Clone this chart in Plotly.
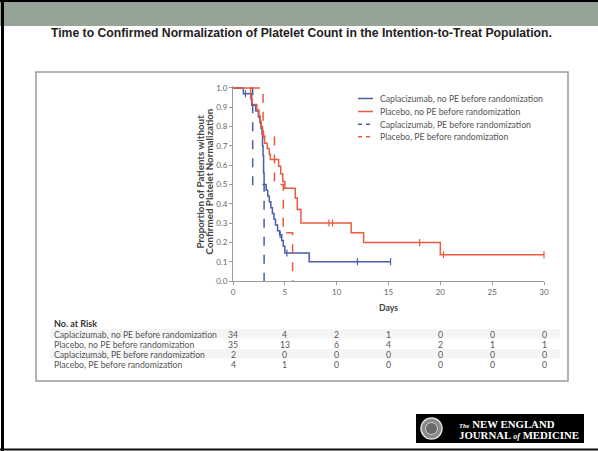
import plotly.graph_objects as go

# ---------------- data ----------------
title_text = "Time to Confirmed Normalization of Platelet Count in the Intention-to-Treat Population."
series_names = [
    "Caplacizumab, no PE before randomization",
    "Placebo, no PE before randomization",
    "Caplacizumab, PE before randomization",
    "Placebo, PE before randomization",
]
y_title_lines = ["Proportion of Patients without", "Confirmed Platelet Normalization"]

# Caplacizumab, no PE (solid blue)
cap_nope_t = [0, 1.0, 1.8, 2.2, 2.45, 2.6, 2.7, 2.8, 2.85, 2.9, 2.95, 3.0, 3.2, 3.35, 3.5, 3.65,
              3.8, 3.95, 4.1, 4.3, 4.5, 4.7, 4.85, 5.0, 7.35, 15.2]
cap_nope_s = [1.0, 0.97, 0.91, 0.88, 0.85, 0.82, 0.79, 0.76, 0.70, 0.65, 0.56, 0.50, 0.47, 0.44, 0.41, 0.38,
              0.35, 0.32, 0.29, 0.26, 0.24, 0.21, 0.18, 0.145, 0.10, 0.10]
cap_nope_cens_t = [1.2, 4.55, 5.2, 12.0, 15.2]
cap_nope_cens_s = [0.97, 0.24, 0.145, 0.10, 0.10]

# Placebo, no PE (solid red)
pla_nope_t = [0, 1.7, 1.85, 2.3, 2.5, 2.6, 2.7, 2.85, 2.95, 3.05, 3.3, 3.5, 3.6, 4.4, 4.6, 4.8, 5.0,
              6.0, 6.2, 6.55, 11.4, 12.6, 20.0, 30.0]
pla_nope_s = [1.0, 0.943, 0.914, 0.886, 0.857, 0.829, 0.80, 0.771, 0.743, 0.714, 0.686, 0.657, 0.629,
              0.594, 0.555, 0.516, 0.48, 0.43, 0.37, 0.30, 0.25, 0.20, 0.136, 0.136]
pla_nope_cens_t = [9.25, 9.6, 18.0, 20.3, 30.0]
pla_nope_cens_s = [0.30, 0.30, 0.20, 0.136, 0.136]

# Caplacizumab, PE (dashed blue)
cap_pe_t = [0, 1.9, 3.0]
cap_pe_s = [1.0, 0.5, 0.0]

# Placebo, PE (dashed red)
pla_pe_t = [0, 2.9, 4.0, 4.85, 5.75]
pla_pe_s = [1.0, 0.75, 0.5, 0.25, 0.0]

x_ticks = [0, 5, 10, 15, 20, 25, 30]
y_ticks = [0.0, 0.1, 0.2, 0.3, 0.4, 0.5, 0.6, 0.7, 0.8, 0.9, 1.0]

risk_days = [0, 5, 10, 15, 20, 25, 30]
risk_cap_nope = [34, 4, 2, 1, 0, 0, 0]
risk_pla_nope = [35, 13, 6, 4, 2, 1, 1]
risk_cap_pe = [2, 0, 0, 0, 0, 0, 0]
risk_pla_pe = [4, 1, 0, 0, 0, 0, 0]
risk_rows = [risk_cap_nope, risk_pla_nope, risk_cap_pe, risk_pla_pe]

# ---------------- styling ----------------
BLUE = "#4a5cab"
RED = "#ea5a3f"
TXT = "#555555"
FONT = "Lato"

W, H = 598, 451
L, R, T, B = 233, 54, 86, 170
PW = W - L - R
PH = H - T - B


def xp(px):
    return (px - L) / PW


def yp(py):
    return (H - B - py) / PH


fig = go.Figure()

styles = [
    (cap_nope_t, cap_nope_s, BLUE, "solid"),
    (pla_nope_t, pla_nope_s, RED, "solid"),
    (cap_pe_t, cap_pe_s, BLUE, "dash"),
    (pla_pe_t, pla_pe_s, RED, "dash"),
]
for (t, s, c, d), name in zip(styles, series_names):
    fig.add_trace(go.Scatter(x=t, y=s, mode="lines", line=dict(color=c, width=1.5, dash=d, shape="hv"),
                             name=name, showlegend=False, hoverinfo="skip"))

for t, s, c in [(cap_nope_cens_t, cap_nope_cens_s, BLUE), (pla_nope_cens_t, pla_nope_cens_s, RED)]:
    fig.add_trace(go.Scatter(x=t, y=s, mode="markers", cliponaxis=False,
                             marker=dict(symbol="line-ns-open", size=5, color=c, line=dict(color=c, width=1.2)),
                             showlegend=False, hoverinfo="skip"))

shapes = []
annotations = []

# slide frame
shapes.append(dict(type="rect", xref="paper", yref="paper", x0=xp(0), x1=xp(598), y0=yp(26), y1=yp(2),
                   fillcolor="#95a496", line=dict(width=0), layer="below"))
shapes.append(dict(type="rect", xref="paper", yref="paper", x0=xp(0), x1=xp(598), y0=yp(2), y1=yp(0),
                   fillcolor="#000000", line=dict(width=0)))
shapes.append(dict(type="rect", xref="paper", yref="paper", x0=xp(1), x1=xp(4), y0=yp(451), y1=yp(0),
                   fillcolor="#000000", line=dict(width=0)))
shapes.append(dict(type="rect", xref="paper", yref="paper", x0=xp(0), x1=xp(598), y0=yp(450.5), y1=yp(448.5),
                   fillcolor="#111111", line=dict(width=0)))

# figure box
shapes.append(dict(type="rect", xref="paper", yref="paper", x0=xp(36), x1=xp(568), y0=yp(381), y1=yp(72),
                   fillcolor="rgba(0,0,0,0)", line=dict(color="#9a9a9a", width=1.5), layer="below"))

# table stripes
for py0 in [329, 349]:
    shapes.append(dict(type="rect", xref="paper", yref="paper", x0=xp(50), x1=xp(560), y0=yp(py0 + 9.5),
                       y1=yp(py0), fillcolor="#f5f5f5", line=dict(width=0), layer="below"))

annotations.append(dict(text="<b>" + title_text + "</b>", xref="paper", yref="paper", x=xp(301), y=yp(33),
                        xanchor="center", yanchor="middle", showarrow=False,
                        font=dict(family="Liberation Sans", size=12.2, color="#222222")))

# legend (manual)
leg_rows = [98.5, 111.5, 124.3, 136.7]
for (t, s, c, d), name, ly in zip(styles, series_names, leg_rows):
    shapes.append(dict(type="line", xref="paper", yref="paper", x0=xp(358), x1=xp(373), y0=yp(ly), y1=yp(ly),
                       line=dict(color=c, width=1.5, dash=("solid" if d == "solid" else "4px,4px"))))
    annotations.append(dict(text=name, xref="paper", yref="paper", x=xp(378), y=yp(ly), xanchor="left",
                            yanchor="middle", showarrow=False, font=dict(family=FONT, size=8.7, color=TXT)))

# axis titles
for line_txt, lx in zip(y_title_lines, [199.5, 208.5]):
    annotations.append(dict(text="<b>" + line_txt + "</b>", xref="paper", yref="paper", x=xp(lx), y=yp(182),
                            xanchor="center", yanchor="middle", textangle=-90, showarrow=False,
                            font=dict(family=FONT, size=9.8, color="#444444")))
annotations.append(dict(text="<b>Days</b>", xref="paper", yref="paper", x=xp(388), y=yp(307),
                        xanchor="center", yanchor="middle", showarrow=False,
                        font=dict(family=FONT, size=8.7, color="#444444")))

# number at risk table
annotations.append(dict(text="<b>No. at Risk</b>", xref="paper", yref="paper", x=xp(52), y=yp(323.3),
                        xanchor="left", yanchor="middle", showarrow=False,
                        font=dict(family=FONT, size=9, color="#333333")))
row_y = [334, 344, 354, 364]
for name, vals, ry in zip(series_names, risk_rows, row_y):
    annotations.append(dict(text=name, xref="paper", yref="paper", x=xp(52), y=yp(ry), xanchor="left",
                            yanchor="middle", showarrow=False, font=dict(family=FONT, size=8.7, color=TXT)))
    for d, v in zip(risk_days, vals):
        annotations.append(dict(text=str(v), xref="x", yref="paper", x=d, y=yp(ry), xanchor="center",
                                yanchor="middle", showarrow=False, font=dict(family=FONT, size=8.7, color=TXT)))

# NEJM logo
shapes.append(dict(type="rect", xref="paper", yref="paper", x0=xp(416), x1=xp(584), y0=yp(443), y1=yp(414),
                   fillcolor="#000000", line=dict(width=0)))
shapes.append(dict(type="circle", xref="paper", yref="paper", x0=xp(421), x1=xp(442), y0=yp(439), y1=yp(418),
                   fillcolor="#8a8a8a", line=dict(color="#dddddd", width=1.5)))
shapes.append(dict(type="circle", xref="paper", yref="paper", x0=xp(425.5), x1=xp(437.5), y0=yp(434.5),
                   y1=yp(422.5), fillcolor="#6a6a6a", line=dict(color="#cfcfcf", width=1)))
annotations.append(dict(text="<b><i><span style='font-size:6.5px'>The</span></i> NEW ENGLAND</b>", xref="paper",
                        yref="paper", x=xp(457), y=yp(423.5), xanchor="left", yanchor="middle", showarrow=False,
                        font=dict(family="Liberation Serif", size=10.8, color="#ffffff")))
annotations.append(dict(text="<b>JOURNAL <i><span style='font-size:8px'>of</span></i> MEDICINE</b>", xref="paper",
                        yref="paper", x=xp(457), y=yp(434.5), xanchor="left", yanchor="middle", showarrow=False,
                        font=dict(family="Liberation Serif", size=10.8, color="#ffffff")))

axis_common = dict(showgrid=False, zeroline=False, showline=True, linecolor="#9a9a9a", linewidth=1,
                   ticks="outside", ticklen=3, tickcolor="#9a9a9a", tickwidth=1,
                   tickfont=dict(family=FONT, size=8, color="#666666"))

fig.update_layout(
    width=W, height=H,
    margin=dict(l=L, r=R, t=T, b=B, pad=0),
    paper_bgcolor="#ffffff", plot_bgcolor="rgba(0,0,0,0)",
    showlegend=False,
    xaxis=dict(range=[0, 30], tickvals=x_ticks, ticktext=[str(v) for v in x_ticks], **axis_common),
    yaxis=dict(range=[0, 1.01], tickvals=y_ticks, ticktext=[f"{v:.1f}" for v in y_ticks], **axis_common),
    shapes=shapes,
    annotations=annotations,
)

fig.write_html("out.html")
